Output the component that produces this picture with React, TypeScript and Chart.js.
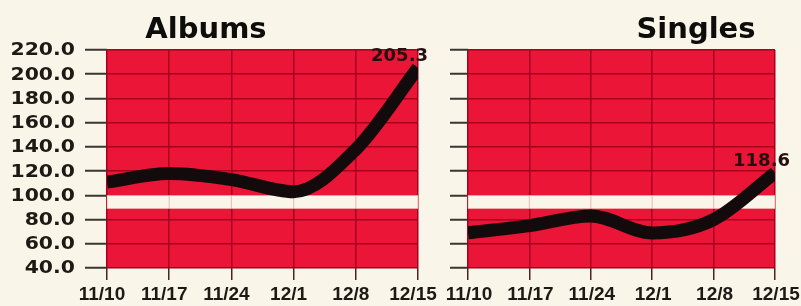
import React, { useEffect, useRef } from "react";
import { Chart, registerables } from "chart.js";

Chart.register(...registerables);

// ---- data ----
const weeks = ["11/10", "11/17", "11/24", "12/1", "12/8", "12/15"];
const albumsValues = [111, 118, 113, 103, 138, 205.3];
const singlesValues = [69, 75, 83, 69, 80, 118.6];
const yMin = 40;
const yMax = 220;
const yStep = 20;
const bandRange = [89, 100];
const panelTitles = ["Albums", "Singles"];

// ---- style ----
const CREAM = "#f9f5e8";
const RED = "#eb1637";
const GRID = "#a6001e";
const TICK = "#3b3630";
const INK = "#1d1a16";
const LINE = "#130b0b";

type PanelProps = {
  title: string;
  values: number[];
  showYLabels: boolean;
  left: number;
  width: number;
  areaLeft: number;
  padRight: number;
  titleX: number;
  yTickLen: number;
  valueDx: number;
  xLabelShift: number;
};

function Panel(p: PanelProps) {
  const ref = useRef<HTMLCanvasElement>(null);

  useEffect(() => {
    const canvas = ref.current!;
    const deco = {
      id: "deco",
      beforeDraw(chart: any) {
        const { ctx, chartArea: a } = chart;
        ctx.save();
        ctx.fillStyle = CREAM;
        ctx.fillRect(0, 0, chart.width, chart.height);
        ctx.fillStyle = RED;
        ctx.fillRect(a.left, a.top, a.right - a.left, a.bottom - a.top);
        ctx.restore();
      },
      beforeDatasetsDraw(chart: any) {
        const { ctx, chartArea: a } = chart;
        const y = chart.scales.y;
        const x = chart.scales.x;
        const top = y.getPixelForValue(bandRange[1]);
        const bot = y.getPixelForValue(bandRange[0]);
        ctx.save();
        ctx.fillStyle = CREAM;
        ctx.fillRect(a.left, top, a.right - a.left, bot - top);
        ctx.strokeStyle = "rgba(232,130,140,0.45)";
        ctx.lineWidth = 1.2;
        for (let i = 0; i < weeks.length; i++) {
          const px = x.getPixelForValue(i);
          ctx.beginPath();
          ctx.moveTo(px, top);
          ctx.lineTo(px, bot);
          ctx.stroke();
        }
        ctx.restore();
      },
      afterDatasetsDraw(chart: any) {
        const { ctx } = chart;
        const meta = chart.getDatasetMeta(0);
        const last = meta.data[meta.data.length - 1];
        const v = p.values[p.values.length - 1];
        ctx.save();
        ctx.font = 'bold 18px "DejaVu Sans"';
        ctx.fillStyle = "#24100f";
        ctx.textAlign = "right";
        ctx.textBaseline = "alphabetic";
        ctx.fillText(v.toFixed(1), last.x + p.valueDx, last.y - 7);
        ctx.restore();
      },
      afterDraw(chart: any) {
        const { ctx, chartArea: a } = chart;
        ctx.save();
        ctx.font = 'bold 29px "DejaVu Sans"';
        ctx.fillStyle = "#0d0d0b";
        ctx.textAlign = "center";
        ctx.textBaseline = "alphabetic";
        ctx.fillText(p.title, p.titleX, 38);
        ctx.restore();
        if (p.showYLabels) {
          const y = chart.scales.y;
          for (const t of y.ticks) {
            const py = y.getPixelForValue(t.value);
            ctx.save();
            ctx.font = 'bold 17px "DejaVu Sans"';
            ctx.fillStyle = INK;
            ctx.textAlign = "right";
            ctx.textBaseline = "middle";
            ctx.translate(a.left - p.yTickLen - 10, py + 1);
            ctx.scale(1.2, 1);
            ctx.fillText(Number(t.value).toFixed(1), 0, 0);
            ctx.restore();
          }
        }
      },
    };

    const chart = new Chart(canvas, {
      type: "line",
      data: {
        labels: weeks,
        datasets: [
          {
            data: p.values,
            borderColor: LINE,
            borderWidth: 13,
            pointRadius: 0,
            cubicInterpolationMode: "monotone",
            fill: false,
            borderCapStyle: "butt",
            borderJoinStyle: "round",
            clip: { left: 0, right: 0, top: 30, bottom: 30 } as any,
          },
        ],
      },
      options: {
        responsive: false,
        maintainAspectRatio: false,
        animation: false,
        layout: { padding: { top: 50, right: p.padRight, left: 0, bottom: 0 } },
        plugins: {
          legend: { display: false },
          tooltip: { enabled: false },
          title: { display: false },
        },
        scales: {
          x: {
            type: "category",
            offset: false,
            border: { display: false },
            grid: {
              color: GRID,
              lineWidth: 1.5,
              tickColor: "#4a2424",
              tickWidth: 1.5,
              tickLength: 12,
              drawTicks: true,
            },
            ticks: {
              color: INK,
              font: { family: "Liberation Sans", weight: "bold", size: 19 },
              padding: 3,
              maxRotation: 0,
              autoSkip: false,
              labelOffset: p.xLabelShift,
            },
            afterFit: (s: any) => {
              s.height = 38;
              s.paddingLeft = 0;
              s.paddingRight = 0;
            },
          },
          y: {
            min: yMin,
            max: yMax,
            border: { display: false },
            grid: {
              color: GRID,
              lineWidth: 1.5,
              tickColor: TICK,
              tickWidth: 2,
              tickLength: p.yTickLen,
              drawTicks: true,
            },
            ticks: {
              stepSize: yStep,
              color: "rgba(0,0,0,0)",
              font: { family: "DejaVu Sans", weight: "bold", size: 17 },
              padding: 8,
            },
            afterFit: (s: any) => {
              s.width = p.areaLeft;
              s.paddingTop = 0;
              s.paddingBottom = 0;
            },
          },
        },
      },
      plugins: [deco],
    } as any);

    return () => chart.destroy();
  }, []);

  return (
    <canvas
      ref={ref}
      width={p.width}
      height={306}
      style={{ position: "absolute", left: p.left, top: 0, width: p.width, height: 306, display: "block" }}
    />
  );
}

export default function App() {
  return (
    <div
      style={{
        position: "fixed",
        left: 0,
        top: 0,
        width: 801,
        height: 306,
        background: CREAM,
        overflow: "hidden",
      }}
    >
      <Panel
        title={panelTitles[0]}
        values={albumsValues}
        showYLabels={true}
        left={0}
        width={440}
        areaLeft={107}
        padRight={22}
        titleX={206}
        yTickLen={22}
        valueDx={10}
        xLabelShift={-5}
      />
      <Panel
        title={panelTitles[1]}
        values={singlesValues}
        showYLabels={false}
        left={440}
        width={361}
        areaLeft={28}
        padRight={26}
        titleX={256}
        yTickLen={18}
        valueDx={15}
        xLabelShift={1}
      />
    </div>
  );
}
